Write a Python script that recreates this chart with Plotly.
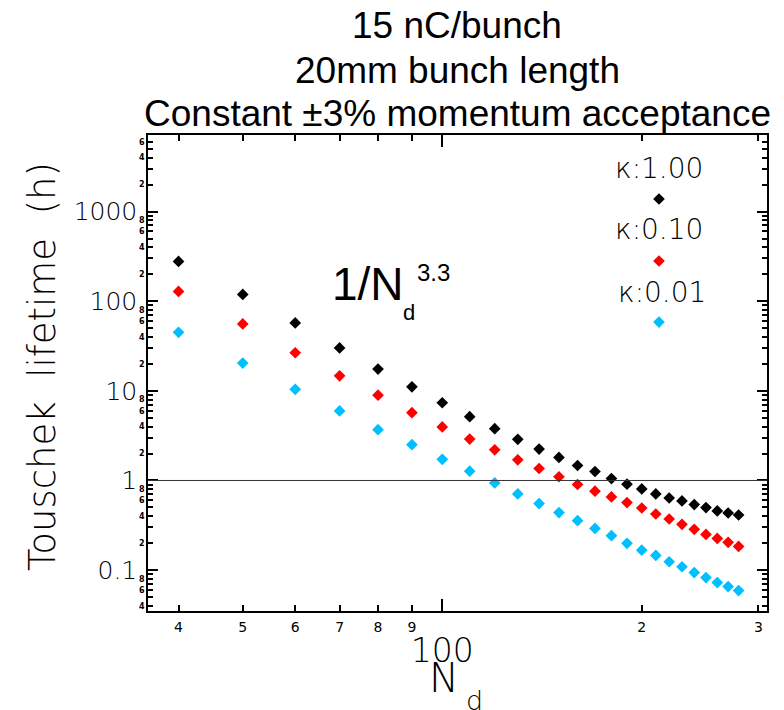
import numpy as np
import plotly.graph_objects as go

# ---------------- data ----------------
n_d = [40, 50, 60, 70, 80, 90, 100, 110, 120, 130, 140, 150, 160, 170, 180,
       190, 200, 210, 220, 230, 240, 250, 260, 270, 280]

life_k100 = [278, 119, 57.3, 30.1, 17.5, 11.1, 7.36, 5.15, 3.78, 2.88, 2.24, 1.81,
             1.47, 1.26, 1.05, 0.91, 0.805, 0.708, 0.638, 0.591, 0.539, 0.499,
             0.457, 0.434, 0.412]
life_k010 = [128.5, 55.8, 26.6, 14.7, 8.95, 5.71, 3.96, 2.90, 2.20, 1.70, 1.36, 1.10,
             0.902, 0.759, 0.655, 0.567, 0.493, 0.423, 0.372, 0.324, 0.285, 0.250,
             0.226, 0.204, 0.184]
life_k001 = [45.0, 20.4, 10.4, 5.97, 3.69, 2.51, 1.72, 1.27, 0.94, 0.708, 0.552, 0.438,
             0.356, 0.292, 0.242, 0.199, 0.167, 0.146, 0.124, 0.109, 0.094, 0.0826,
             0.0726, 0.0655, 0.0591]

series_names = ["\u03ba:1.00", "\u03ba:0.10", "\u03ba:0.01"]
series_colors = ["#000000", "#ff0000", "#00bfff"]

x_minor_vals = [40, 50, 60, 70, 80, 90, 200, 300]
x_minor_text = ["4", "5", "6", "7", "8", "9", "2", "3"]
x_major_vals = [100]
x_major_text = ["100"]

y_major_vals = [0.1, 1, 10, 100, 1000]
y_major_text = ["0.1", "1", "10", "100", "1000"]

titles = ["15 nC/bunch", "20mm bunch length", "Constant \u00b13% momentum acceptance"]

# ---------------- layout constants ----------------
X_RANGE = [1.556, 2.490]
Y_RANGE = [-1.456, 3.854]
HERSHEY = "DejaVu Sans"

# minor y ticks
y_minor_vals, y_minor_text = [], []
for d in range(-2, 4):
    for k in range(2, 10):
        v = k * 10.0 ** d
        if Y_RANGE[0] <= np.log10(v) <= Y_RANGE[1]:
            y_minor_vals.append(v)
            y_minor_text.append(str(k) if k % 2 == 0 else "")

fig = go.Figure()
for ys, name, col in zip([life_k100, life_k010, life_k001], series_names, series_colors):
    fig.add_trace(go.Scatter(x=n_d, y=ys, mode="markers", name=name,
                             marker=dict(symbol="diamond", size=9, color=col,
                                         line=dict(width=0)),
                             showlegend=False, hoverinfo="x+y"))

# dummy trace for overlay axes
fig.add_trace(go.Scatter(x=[100], y=[1], xaxis="x2", yaxis="y2", mode="markers",
                         marker=dict(opacity=0), showlegend=False, hoverinfo="skip"))

# legend markers (own hidden axes)
leg_y = [0.8655, 0.7353, 0.607]
fig.add_trace(go.Scatter(x=[0.8255] * 3, y=leg_y, xaxis="x3", yaxis="y3", mode="markers",
                         marker=dict(symbol="diamond", size=9, color=series_colors,
                                     line=dict(width=0)),
                         showlegend=False, hoverinfo="skip"))

axis_common = dict(type="log", showgrid=False, zeroline=False, ticks="inside",
                   showline=True, linecolor="black", linewidth=1.5,
                   tickcolor="black", tickwidth=1.5, mirror="allticks")

fig.update_layout(
    width=784, height=710,
    margin=dict(l=148, r=17, t=135, b=99),
    paper_bgcolor="white", plot_bgcolor="white",
    xaxis=dict(**axis_common, range=X_RANGE, tickmode="array",
               tickvals=x_minor_vals, ticktext=x_minor_text, ticklen=6,
               ticklabelstandoff=2,
               tickfont=dict(family=HERSHEY, size=14, color="black")),
    xaxis2=dict(**axis_common, range=X_RANGE, overlaying="x", side="bottom",
                tickmode="array", tickvals=x_major_vals, ticktext=x_major_text,
                ticklen=12, ticklabelstandoff=10,
                tickfont=dict(family=HERSHEY, size=33, color="black", weight=200)),
    yaxis=dict(**axis_common, range=Y_RANGE, tickmode="array",
               tickvals=y_minor_vals, ticktext=y_minor_text, ticklen=5,
               tickfont=dict(family=HERSHEY, size=8, color="black", weight="bold")),
    yaxis2=dict(**axis_common, range=Y_RANGE, overlaying="y", side="left",
                tickmode="array", tickvals=y_major_vals, ticktext=y_major_text,
                ticklen=10, ticklabelstandoff=4,
                tickfont=dict(family=HERSHEY, size=25, color="black", weight=200)),
    xaxis3=dict(range=[0, 1], overlaying="x", visible=False),
    yaxis3=dict(range=[0, 1], overlaying="y", visible=False),
)

# horizontal reference line at 1 h
fig.add_shape(type="line", xref="paper", x0=0, x1=1, yref="y", y0=1, y1=1,
              line=dict(color="#333333", width=1))

ann = []
# titles
for txt, ypx in zip(titles, [26, 70, 114]):
    ann.append(dict(text=txt, xref="paper", yref="paper",
                    x=(457 - 148) / 619, y=(611 - ypx) / 476,
                    xanchor="center", yanchor="middle", showarrow=False,
                    font=dict(family="Liberation Sans", size=37, color="black")))
# legend texts
for txt, (xp, ypx) in zip(series_names, [(659, 168), (659, 229), (662, 292)]):
    ann.append(dict(text=txt, xref="paper", yref="paper",
                    x=(xp - 148) / 619, y=(611 - ypx) / 476,
                    xanchor="center", yanchor="middle", showarrow=False,
                    font=dict(family=HERSHEY, size=28, color="black", weight=200)))
# 1/N_d^3.3
ann.append(dict(text="1/N", xref="paper", yref="paper", x=(330 - 148) / 619,
                y=(611 - 284) / 476, xanchor="left", yanchor="middle", showarrow=False,
                font=dict(family="Liberation Sans", size=46, color="black")))
ann.append(dict(text="d", xref="paper", yref="paper", x=(401 - 148) / 619,
                y=(611 - 312) / 476, xanchor="left", yanchor="middle", showarrow=False,
                font=dict(family="Liberation Sans", size=22, color="black")))
ann.append(dict(text="3.3", xref="paper", yref="paper", x=(415 - 148) / 619,
                y=(611 - 272) / 476, xanchor="left", yanchor="middle", showarrow=False,
                font=dict(family="Liberation Sans", size=24, color="black")))
# axis titles
ann.append(dict(text="Touschek  lifetime  (h)", xref="paper", yref="paper",
                x=(42 - 148) / 619, y=(611 - 367) / 476, textangle=-90,
                xanchor="center", yanchor="middle", showarrow=False,
                font=dict(family=HERSHEY, size=37, color="black", weight=200)))
ann.append(dict(text="N", xref="paper", yref="paper", x=(444 - 148) / 619,
                y=(611 - 678) / 476, xanchor="center", yanchor="middle", showarrow=False,
                font=dict(family=HERSHEY, size=40, color="black", weight=200)))
ann.append(dict(text="d", xref="paper", yref="paper", x=(474 - 148) / 619,
                y=(611 - 700) / 476, xanchor="center", yanchor="middle", showarrow=False,
                font=dict(family=HERSHEY, size=27, color="black", weight=200)))
fig.update_layout(annotations=ann)

fig.write_html("out.html")
